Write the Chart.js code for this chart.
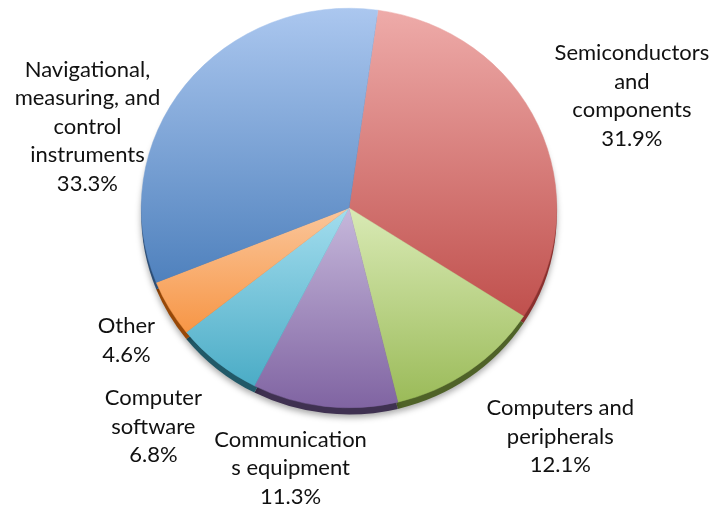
<!DOCTYPE html>
<html>
<head>
<meta charset="utf-8">
<script src="https://cdn.jsdelivr.net/npm/chart.js@4/dist/chart.umd.min.js"></script>
<style>
  html, body { margin: 0; padding: 0; background: #fff; }
  #wrap { width: 720px; height: 508px; }
</style>
</head>
<body>
<div id="wrap"><canvas id="pie_industria"></canvas></div>
<script>
// shares by industry, clockwise from the top
var categorias = ['Semiconductors and components', 'Computers and peripherals', 'Communications equipment',
                  'Computer software', 'Other', 'Navigational, measuring, and control instruments'];
var porcentajes = [31.9, 12.1, 11.3, 6.8, 4.6, 33.3];
var lineas_etiqueta = [
    ['Semiconductors', 'and', 'components'],
    ['Computers and', 'peripherals'],
    ['Communication', 's equipment'],
    ['Computer', 'software'],
    ['Other'],
    ['Navigational,', 'measuring, and', 'control', 'instruments']
];

// colours: light top of gradient, base, dark side
var color_claro = ['#eeaba9', '#d9eab5', '#c6b8db', '#a3ddee', '#fac69b', '#abc7ef'];
var color_base  = ['#c0504d', '#9bbb59', '#8064a2', '#4bacc6', '#f79646', '#4f81bd'];
var color_lado  = ['#8a302e', '#4f6228', '#3f3151', '#215968', '#984807', '#2c4d75'];
// where each label sits, relative to the outer middle of its slice
var desplaz_etiqueta = [[94, -29], [91, 66], [-34, 62], [-64, 64], [-43, 32], [-98, 42]];

var INCLINA = 200 / 208;   // slight tilt of the pie
var GROSOR = 7;            // thickness of the side

function rango_y(arc){
    var s = arc.startAngle, e = arc.endAngle, r = arc.outerRadius;
    var ys = [arc.y, arc.y + r * Math.sin(s), arc.y + r * Math.sin(e)];
    for (var k = -2; k <= 2; k++){
        var abajo = Math.PI / 2 + 2 * Math.PI * k;
        var arriba = -Math.PI / 2 + 2 * Math.PI * k;
        if (abajo > s && abajo < e) ys.push(arc.y + r);
        if (arriba > s && arriba < e) ys.push(arc.y - r);
    }
    return [Math.min.apply(null, ys), Math.max.apply(null, ys)];
}

var pie3d = {
    id: 'pie3d',
    beforeDatasetsDraw: function(chart){
        var ctx = chart.ctx;
        var arcs = chart.getDatasetMeta(0).data;
        var cx = arcs[0].x, cy = arcs[0].y;
        ctx.save();
        ctx.translate(cx, cy);
        ctx.scale(1, INCLINA);
        ctx.translate(-cx, -cy);
        // side of the pie, drawn lower and covered by the top face
        arcs.forEach(function(arc, i){
            ctx.save();
            ctx.shadowColor = 'rgba(0,0,0,0.35)';
            ctx.shadowBlur = 6;
            ctx.shadowOffsetY = 3;
            ctx.beginPath();
            ctx.moveTo(arc.x, arc.y + GROSOR);
            ctx.arc(arc.x, arc.y + GROSOR, arc.outerRadius, arc.startAngle, arc.endAngle);
            ctx.closePath();
            ctx.fillStyle = color_lado[i];
            ctx.fill();
            ctx.restore();
        });
        arcs.forEach(function(arc, i){
            var ry = rango_y(arc);
            var g = ctx.createLinearGradient(0, ry[0], 0, ry[1]);
            g.addColorStop(0, color_claro[i]);
            g.addColorStop(1, color_base[i]);
            arc.options.backgroundColor = g;
            arc.options.borderColor = g;
        });
    },
    afterDatasetsDraw: function(chart){
        chart.ctx.restore();
    },
    afterDraw: function(chart){
        var ctx = chart.ctx;
        var arcs = chart.getDatasetMeta(0).data;
        ctx.save();
        ctx.font = '22px Lato';
        ctx.fillStyle = '#111';
        ctx.textAlign = 'center';
        ctx.textBaseline = 'middle';
        arcs.forEach(function(arc, i){
            var mid = (arc.startAngle + arc.endAngle) / 2;
            var x = arc.x + arc.outerRadius * Math.cos(mid);
            var y = arc.y + arc.outerRadius * Math.sin(mid) * INCLINA;
            x += desplaz_etiqueta[i][0];
            y += desplaz_etiqueta[i][1];
            var lineas = lineas_etiqueta[i].concat([porcentajes[i].toFixed(1) + '%']);
            var alto = 28.5;
            var y0 = y - (lineas.length - 1) * alto / 2;
            lineas.forEach(function(t, j){
                ctx.fillText(t, x, y0 + j * alto);
            });
        });
        ctx.restore();
    }
};

new Chart(document.getElementById('pie_industria'), {
    type: 'pie',
    data: {
        labels: categorias,
        datasets: [{
            data: porcentajes,
            backgroundColor: color_base,
            borderWidth: 0.5,
            hoverOffset: 0,
            clip: false
        }]
    },
    options: {
        responsive: true,
        maintainAspectRatio: false,
        animation: false,
        rotation: 8,
        layout: { padding: { top: 0, bottom: 92, left: 0, right: 22 } },
        events: [],
        plugins: {
            legend: { display: false },
            tooltip: { enabled: false }
        }
    },
    plugins: [pie3d]
});
</script>
</body>
</html>
